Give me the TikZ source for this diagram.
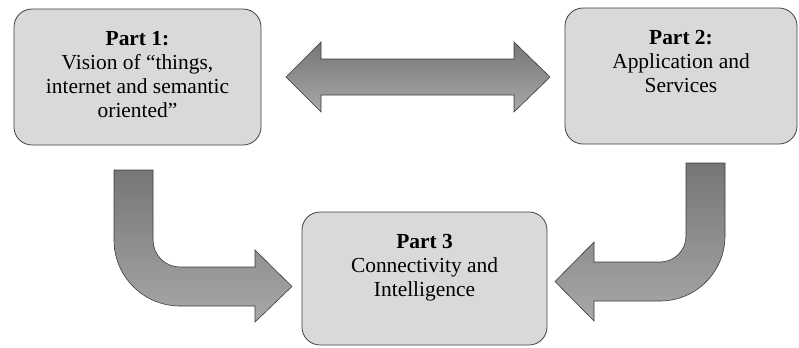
\documentclass[tikz,border=0pt]{standalone}
\usepackage{fontspec}
\setmainfont{Liberation Serif}
\usetikzlibrary{positioning}
\definecolor{boxfill}{RGB}{217,217,217}
\definecolor{boxline}{RGB}{64,64,64}
\definecolor{arrtop}{RGB}{118,118,118}
\definecolor{arrbot}{RGB}{168,168,168}
\definecolor{arrline}{RGB}{60,60,60}

\begin{document}
\begin{tikzpicture}[x=1bp, y=-1bp,
	part/.style={draw=boxline, fill=boxfill, line width=0.8bp, rounded corners=18bp, inner sep=0pt},
	parttext/.style={align=center, inner sep=0pt, font=\fontsize{21.5}{24}\selectfont},
	fatarrow/.style={draw=arrline, line width=0.6bp, top color=arrtop, bottom color=arrbot, line join=miter}]
	\useasboundingbox (0,0) rectangle (799,347);
	% the three parts
	\node (P1) [part, minimum width=247bp, minimum height=136bp] at (137.5,77) {};
	\node (P2) [part, minimum width=232bp, minimum height=136bp] at (681,76) {};
	\node (P3) [part, minimum width=245bp, minimum height=133bp] at (424.5,278.5) {};
	\node (P1text) [parttext, below=22.5bp of P1.north] {\textbf{Part 1:}\\Vision of “things,\\internet and semantic\\oriented”};
	\node (P2text) [parttext, below=22.5bp of P2.north] {\textbf{Part 2:}\\Application and\\Services};
	\node (P3text) [parttext, below=22.5bp of P3.north] {\textbf{Part 3}\\Connectivity and\\Intelligence};
	% block arrows
	\draw[fatarrow] (286,77) -- (321,42) -- (321,59) -- (514,59) -- (514,42) -- (550,77)
		-- (514,112) -- (514,95) -- (321,95) -- (321,112) -- cycle;
	\draw[fatarrow] (114,170) -- (153,170) -- (153,240) arc[start angle=180, end angle=90, radius=27]
		-- (255,267) -- (255,250) -- (292,286.5) -- (255,322) -- (255,306) -- (180,306)
		arc[start angle=90, end angle=180, radius=66] -- cycle;
	\draw[fatarrow] (725,163) -- (686,163) -- (686,236) arc[start angle=0, end angle=90, radius=26]
		-- (594,262) -- (594,242) -- (555,281.5) -- (594,321) -- (594,301) -- (660,301)
		arc[start angle=90, end angle=0, radius=65] -- cycle;
\end{tikzpicture}
\end{document}
